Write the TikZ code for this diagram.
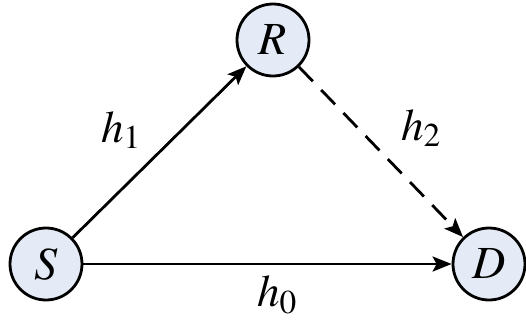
\documentclass[tikz,border=0pt]{standalone}
\usepackage{mathptmx}
\usetikzlibrary{arrows.meta}
\definecolor{nodefill}{HTML}{E4EBF6}
\newcommand{\hlab}[1]{$h_{#1}$}
\tikzset{
  vertex/.style={circle, draw=black, line width=2.8pt, fill=nodefill, minimum size=72pt, inner sep=0pt, font=\fontsize{46}{50}\selectfont},
  link/.style={line width=2.8pt, -{Stealth[length=19pt,width=15pt,inset=4pt]}},
  lab/.style={font=\fontsize{45}{50}\selectfont, inner sep=0pt}
}
\begin{document}
\begin{tikzpicture}[x=1pt,y=-1pt]
\useasboundingbox (0,0) rectangle (526,322);
\node[vertex] (S) at (46,264) {$S$};
\node[vertex] (R) at (273,40) {$R$};
\node[vertex] (D) at (489,264) {$D$};
\draw[link] (S) -- (R);
\draw[link, dash pattern=on 20pt off 12pt] (R) -- (D);
\draw[link] (S) -- (D);
\node[lab] (l1) at (121,130) {\hlab{1}};
\node[lab] (l2) at (421,128) {\hlab{2}};
\node[lab] (l0) at (277,295) {\hlab{0}};
\end{tikzpicture}
\end{document}
